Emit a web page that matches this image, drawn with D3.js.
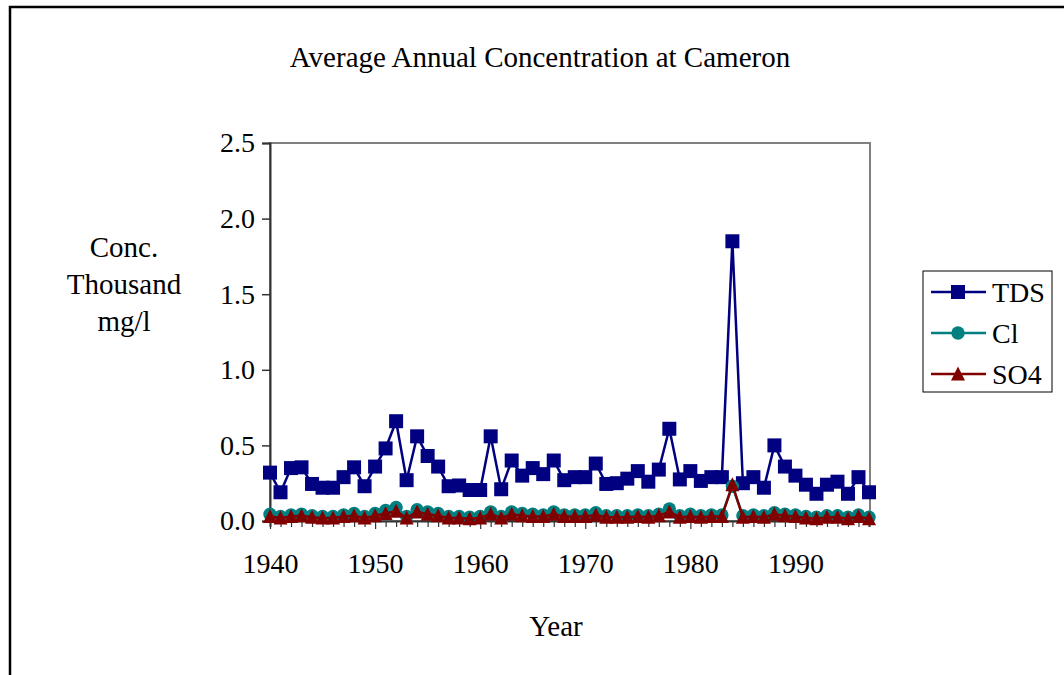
<!DOCTYPE html>
<html>
<head>
<meta charset="utf-8">
<script src="https://cdn.jsdelivr.net/npm/d3@7"></script>
<style>
  body { margin: 0; background: #fff; }
  svg text { font-family: "Liberation Serif", "Times New Roman", serif; fill: #000; }
</style>
</head>
<body>
<div id="chart"></div>
<script>
// years 1940..1997, one value per year (thousand mg/l)
let years = d3.range(1940, 1998);

let tds = [0.32, 0.19, 0.35, 0.355, 0.245, 0.22, 0.22, 0.29, 0.355, 0.23,
           0.36, 0.48, 0.66, 0.27, 0.56, 0.43, 0.36, 0.23, 0.235, 0.205,
           0.205, 0.56, 0.21, 0.40, 0.30, 0.35, 0.31, 0.40, 0.27, 0.29,
           0.29, 0.38, 0.245, 0.25, 0.28, 0.33, 0.26, 0.34, 0.61, 0.275,
           0.33, 0.265, 0.29, 0.29, 1.85, 0.25, 0.29, 0.22, 0.50, 0.36,
           0.30, 0.24, 0.18, 0.24, 0.26, 0.18, 0.29, 0.19];

let cl = [0.045, 0.03, 0.04, 0.045, 0.035, 0.03, 0.03, 0.04, 0.05, 0.03,
          0.05, 0.07, 0.09, 0.03, 0.075, 0.06, 0.05, 0.03, 0.03, 0.025,
          0.03, 0.06, 0.03, 0.06, 0.05, 0.045, 0.04, 0.06, 0.04, 0.04,
          0.04, 0.055, 0.035, 0.035, 0.035, 0.04, 0.035, 0.045, 0.08, 0.035,
          0.045, 0.035, 0.04, 0.04, 0.23, 0.035, 0.04, 0.035, 0.055, 0.045,
          0.04, 0.03, 0.025, 0.035, 0.035, 0.025, 0.04, 0.025];

let so4 = [0.03, 0.02, 0.03, 0.035, 0.025, 0.02, 0.02, 0.03, 0.035, 0.02,
           0.035, 0.05, 0.065, 0.02, 0.06, 0.045, 0.035, 0.02, 0.02, 0.015,
           0.02, 0.045, 0.02, 0.045, 0.035, 0.03, 0.03, 0.045, 0.03, 0.03,
           0.03, 0.04, 0.025, 0.025, 0.025, 0.03, 0.025, 0.035, 0.06, 0.025,
           0.03, 0.025, 0.03, 0.03, 0.24, 0.025, 0.03, 0.025, 0.045, 0.035,
           0.03, 0.02, 0.015, 0.025, 0.025, 0.015, 0.03, 0.015];

let yTicks = [0, 0.5, 1.0, 1.5, 2.0, 2.5];
let xLabels = [1940, 1950, 1960, 1970, 1980, 1990];

// marker shapes drawn around (0,0)
let squareMark = "M-7,-7H7V7H-7Z";
let circleMark = d3.symbol().type(d3.symbolCircle).size(140)();
let triMark = "M0,-7.5L7,6.5H-7Z";

let series = [
  {name: "TDS", values: tds, color: "#000080", mark: squareMark},
  {name: "Cl", values: cl, color: "#008080", mark: circleMark},
  {name: "SO4", values: so4, color: "#800000", mark: triMark}
];

let W = 1064, H = 675;
let plot = {left: 270, right: 869, top: 143, bottom: 521};

let svg = d3.select("#chart").append("svg")
  .attr("width", W)
  .attr("height", H);

// outer chart border (runs off the right and bottom edges)
svg.append("rect")
  .attr("x", 10).attr("y", 7)
  .attr("width", W + 20).attr("height", H + 20)
  .attr("fill", "#fff")
  .attr("stroke", "#000")
  .attr("stroke-width", 2.5);

let x = d3.scaleLinear().domain([1940, 1997]).range([plot.left, plot.right]);
let y = d3.scaleLinear().domain([0, 2.5]).range([plot.bottom, plot.top]);

// plot area frame
svg.append("rect")
  .attr("x", plot.left).attr("y", plot.top)
  .attr("width", plot.right - plot.left + 1)
  .attr("height", plot.bottom - plot.top)
  .attr("fill", "none")
  .attr("stroke", "#808080")
  .attr("stroke-width", 2);

// y axis
let yAxis = svg.append("g")
  .attr("transform", "translate(" + plot.left + ",0)")
  .call(d3.axisLeft(y).tickValues(yTicks).tickSize(8).tickPadding(7)
    .tickFormat(d3.format(".1f")));
yAxis.select(".domain").attr("stroke", "#333").attr("stroke-width", 2);
yAxis.selectAll(".tick line").attr("stroke", "#333").attr("stroke-width", 1.5);
yAxis.selectAll("text")
  .style("font-family", '"Liberation Serif", serif')
  .style("font-size", "28px");

// x axis: minor ticks every year, labels every ten
let xAxis = svg.append("g")
  .attr("transform", "translate(0," + plot.bottom + ")")
  .call(d3.axisBottom(x).tickValues(years).tickSize(6).tickPadding(26)
    .tickFormat(function (d) { return xLabels.indexOf(d) >= 0 ? d : ""; }));
xAxis.select(".domain").attr("stroke", "#333").attr("stroke-width", 2);
xAxis.selectAll(".tick line")
  .attr("stroke", "#333")
  .attr("stroke-width", 1.2)
  .attr("y2", function (d) { return xLabels.indexOf(d) >= 0 ? 8 : 6; });
xAxis.selectAll("text")
  .style("font-family", '"Liberation Serif", serif')
  .style("font-size", "28px");

// series lines and markers, drawn in series order
let line = d3.line()
  .x(function (d, i) { return x(years[i]); })
  .y(function (d) { return y(d); });

series.forEach(function (s) {
  svg.append("path")
    .attr("d", line(s.values))
    .attr("fill", "none")
    .attr("stroke", s.color)
    .attr("stroke-width", 2.5);
  svg.append("g").selectAll("path")
    .data(s.values)
    .join("path")
    .attr("transform", function (d, i) { return "translate(" + x(years[i]) + "," + y(d) + ")"; })
    .attr("d", s.mark)
    .attr("fill", s.color);
});

// title and axis labels
svg.append("text")
  .attr("x", 540).attr("y", 67)
  .attr("text-anchor", "middle")
  .style("font-size", "29px")
  .text("Average Annual Concentration at Cameron");

let yl = svg.append("text")
  .attr("text-anchor", "middle")
  .style("font-size", "29px");
["Conc.", "Thousand", "mg/l"].forEach(function (t, i) {
  yl.append("tspan").attr("x", 124).attr("y", 257 + i * 37).text(t);
});

svg.append("text")
  .attr("x", 556).attr("y", 636)
  .attr("text-anchor", "middle")
  .style("font-size", "29px")
  .text("Year");

// legend
let lg = svg.append("g");
lg.append("rect")
  .attr("x", 923).attr("y", 271)
  .attr("width", 129).attr("height", 121)
  .attr("fill", "#fff")
  .attr("stroke", "#000")
  .attr("stroke-width", 1);

series.forEach(function (s, i) {
  let ly = 292 + i * 41;
  lg.append("line")
    .attr("x1", 931).attr("x2", 986)
    .attr("y1", ly).attr("y2", ly)
    .attr("stroke", s.color)
    .attr("stroke-width", 2.5);
  lg.append("path")
    .attr("transform", "translate(958," + ly + ")")
    .attr("d", s.mark)
    .attr("fill", s.color);
  lg.append("text")
    .attr("x", 992).attr("y", ly + 10)
    .style("font-size", "28px")
    .text(s.name);
});
</script>
</body>
</html>
